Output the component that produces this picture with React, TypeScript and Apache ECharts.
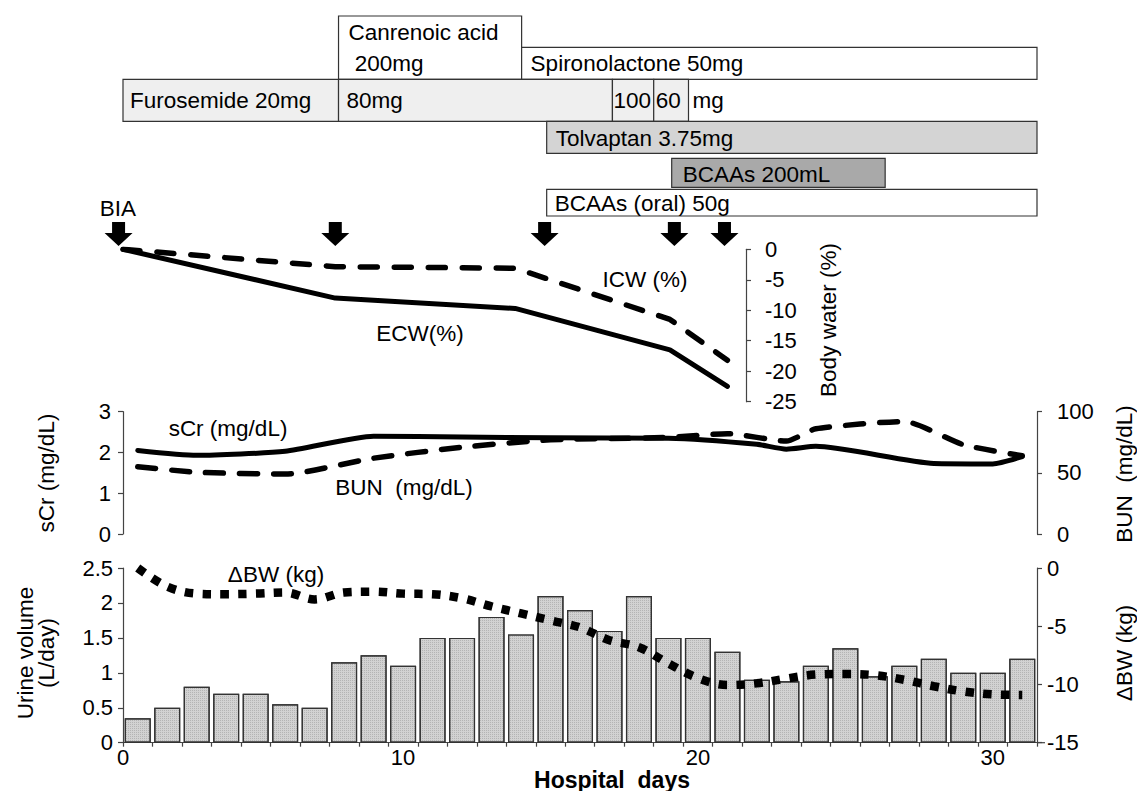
import React, { useEffect, useRef } from "react";
import * as echarts from "echarts";

const FONT = "'Liberation Sans', Arial, Helvetica, sans-serif";

// ---------------- data ----------------
const drugNames = [
  "Canrenoic acid\n 200mg",
  "Spironolactone 50mg",
  "Furosemide 20mg",
  "80mg",
  "100",
  "60",
  "Tolvaptan 3.75mg",
  "BCAAs 200mL",
  "BCAAs (oral) 50g",
];
const drugStartDay = [7.31, 13.52, 0, 7.31, 16.6, 18.0, 14.37, 18.61, 14.37];
const drugEndDay = [13.52, 31, 7.31, 16.6, 18.0, 19.18, 31, 25.85, 31];
const drugSuffix = ["", "", "", "", "", "mg", "", "", ""];

const biaDays = [-0.15, 7.2, 14.3, 18.7, 20.4];

const bodyWaterDays = [0, 7.2, 13.3, 18.55, 20.5];
const ecwChange = [0, -8, -9.7, -16.5, -22.5];
const icwChange = [0, -2.85, -3.1, -11.5, -18.2];

const sCrDays = [0.5, 2.5, 5.5, 8.5, 11.5, 14.5, 18.5, 21.5, 22.5, 23.5, 27.5, 29.5, 30.5];
const sCrValues = [2.05, 1.93, 2.03, 2.4, 2.38, 2.36, 2.35, 2.2, 2.08, 2.15, 1.73, 1.72, 1.9];
const bunDays = [0.5, 2.5, 5.5, 8.5, 11.5, 14.5, 18.5, 20.5, 22.5, 23.5, 26.5, 28.5, 30.5];
const bunValues = [55, 50.5, 49, 62, 71, 77, 79, 82, 76, 86, 92, 73, 64];

const urineVolume = [
  0.35, 0.5, 0.8, 0.7, 0.7, 0.55, 0.5, 1.15, 1.25, 1.1, 1.5, 1.5, 1.8, 1.55, 2.1, 1.9,
  1.6, 2.1, 1.5, 1.5, 1.3, 0.9, 0.88, 1.1, 1.35, 0.95, 1.1, 1.2, 1.0, 1.0, 1.2,
];
const deltaBW = [
  0, -1.6, -2.2, -2.25, -2.2, -2.1, -2.7, -2.1, -2.03, -2.2, -2.25, -2.6, -3.3, -3.9, -4.5,
  -5.1, -6.2, -6.8, -8.2, -9.45, -10.05, -9.9, -9.5, -9.15, -9.1, -9.2, -9.6, -10.15, -10.6,
  -10.85, -10.9,
];

const dayTickLabels = ["0", "10", "20", "30"];
const dayTickValues = [0, 9.5, 19.5, 29.5];

// ---------------- layout / style ----------------
const W = 1137;
const H = 791;
const PLOT_LEFT = 123;
const PLOT_WIDTH = 914;
const TOTAL_DAYS = 31;
const BW_AXIS_X = 746;
const AXIS_COLOR = "#444";
const TICK_FONT = 22;
const TEXT_FONT = 22.5;

const drugLayout = [
  { top: 16, bottom: 79.3, fill: "#ffffff", dx: 10, ty: 48 },
  { top: 47.3, bottom: 79.3, fill: "#ffffff", dx: 9, ty: 63.5 },
  { top: 79.3, bottom: 121.3, fill: "#efefef", dx: 7, ty: 100.5 },
  { top: 79.3, bottom: 121.3, fill: "#efefef", dx: 8, ty: 100.5 },
  { top: 79.3, bottom: 121.3, fill: "#efefef", dx: 1, ty: 100.5 },
  { top: 79.3, bottom: 121.3, fill: "#efefef", dx: 2, ty: 100.5 },
  { top: 121.3, bottom: 153.3, fill: "#d4d4d4", dx: 9, ty: 138 },
  { top: 158.3, bottom: 187.3, fill: "#a9a9a9", dx: 11, ty: 174 },
  { top: 189.3, bottom: 216, fill: "#ffffff", dx: 8, ty: 203 },
];

function axisText(text: string, x: number, y: number, rotate = false, bold = false, size = TEXT_FONT) {
  return {
    type: "text",
    x,
    y,
    rotation: rotate ? Math.PI / 2 : 0,
    style: {
      text,
      fill: "#000",
      fontSize: size,
      fontFamily: FONT,
      fontWeight: bold ? "bold" : "normal",
      align: "center",
      verticalAlign: "middle",
      lineHeight: rotate ? 21 : size,
    },
  };
}

function yAxisBase(gridIndex: number, position: "left" | "right", min: number, max: number, interval: number, margin: number) {
  return {
    type: "value",
    gridIndex,
    position,
    min,
    max,
    interval,
    axisLine: { show: true, onZero: false, lineStyle: { color: AXIS_COLOR, width: 1.2 } },
    axisTick: { show: true, inside: false, length: 5, lineStyle: { color: AXIS_COLOR, width: 1.2 } },
    axisLabel: {
      show: true,
      margin,
      color: "#000",
      fontSize: TICK_FONT,
      fontFamily: FONT,
      align: position === "left" ? "right" : "left",
    },
    splitLine: { show: false },
  };
}

export default function App() {
  const ref = useRef<HTMLDivElement>(null);

  useEffect(() => {
    if (!ref.current) return;
    const chart = echarts.init(ref.current, undefined, { renderer: "svg" });
    const pxPerDay = PLOT_WIDTH / TOTAL_DAYS;
    const bwMaxDay = (BW_AXIS_X - PLOT_LEFT) / pxPerDay;

    const hiddenX = (gridIndex: number, max: number) => ({
      type: "value",
      gridIndex,
      min: 0,
      max,
      show: false,
    });

    const option: any = {
      animation: false,
      backgroundColor: "#ffffff",
      grid: [
        { left: PLOT_LEFT, top: 0, width: PLOT_WIDTH, height: 249 },
        { left: PLOT_LEFT, top: 249.3, width: BW_AXIS_X - PLOT_LEFT, height: 152.4 },
        { left: PLOT_LEFT, top: 411.7, width: PLOT_WIDTH, height: 122.3 },
        { left: PLOT_LEFT, top: 568, width: PLOT_WIDTH, height: 174.7 },
      ],
      xAxis: [
        hiddenX(0, TOTAL_DAYS),
        hiddenX(1, bwMaxDay),
        hiddenX(2, TOTAL_DAYS),
        {
          type: "value",
          gridIndex: 3,
          min: 0,
          max: TOTAL_DAYS,
          interval: 1,
          axisLine: { show: true, onZero: false, lineStyle: { color: AXIS_COLOR, width: 1.2 } },
          axisTick: {
            show: true,
            length: 4,
            inside: false,
            customValues: Array.from({ length: TOTAL_DAYS + 1 }, (_, i) => i),
            lineStyle: { color: AXIS_COLOR, width: 1.2 },
          },
          axisLabel: {
            show: true,
            customValues: dayTickValues,
            formatter: (v: number) => {
              const i = dayTickValues.findIndex((t) => Math.abs(t - v) < 1e-6);
              return i >= 0 ? dayTickLabels[i] : "";
            },
            margin: 4,
            color: "#000",
            fontSize: TICK_FONT,
            fontFamily: FONT,
          },
          splitLine: { show: false },
        },
      ],
      yAxis: [
        { type: "value", gridIndex: 0, min: 0, max: 1, show: false },
        yAxisBase(1, "right", -25, 0, 5, 19),
        yAxisBase(2, "left", 0, 3, 1, 12),
        yAxisBase(2, "right", 0, 100, 50, 20),
        yAxisBase(3, "left", 0, 2.5, 0.5, 10),
        yAxisBase(3, "right", -15, 0, 5, 10),
      ],
      series: [
        {
          type: "custom",
          name: "Drugs",
          xAxisIndex: 0,
          yAxisIndex: 0,
          clip: false,
          data: drugNames.map((_, i) => [drugStartDay[i], drugEndDay[i], 0.5]),
          encode: { x: [0, 1], y: 2 },
          renderItem: (params: any, api: any) => {
            const i = params.dataIndex;
            const x0 = api.coord([api.value(0), 0.5])[0];
            const x1 = api.coord([api.value(1), 0.5])[0];
            const L = drugLayout[i];
            const children: any[] = [
              {
                type: "rect",
                shape: { x: x0, y: L.top, width: x1 - x0, height: L.bottom - L.top },
                style: { fill: L.fill, stroke: "#333", lineWidth: 1.2 },
              },
              {
                type: "text",
                style: {
                  text: drugNames[i],
                  x: x0 + L.dx,
                  y: L.ty,
                  fill: "#000",
                  fontSize: TEXT_FONT,
                  fontFamily: FONT,
                  align: "left",
                  verticalAlign: "middle",
                  lineHeight: 31,
                },
              },
            ];
            if (drugSuffix[i]) {
              children.push({
                type: "text",
                style: {
                  text: drugSuffix[i],
                  x: x1 + 4,
                  y: L.ty,
                  fill: "#000",
                  fontSize: TEXT_FONT,
                  fontFamily: FONT,
                  align: "left",
                  verticalAlign: "middle",
                },
              });
            }
            return { type: "group", children };
          },
        },
        {
          type: "custom",
          name: "BIA",
          xAxisIndex: 0,
          yAxisIndex: 0,
          clip: false,
          data: biaDays.map((d) => [d, 0.5]),
          encode: { x: 0, y: 1 },
          renderItem: (params: any, api: any) => {
            const cx = api.coord([api.value(0), 0.5])[0];
            const top = 222;
            const mid = 233;
            const tip = 246;
            return {
              type: "polygon",
              shape: {
                points: [
                  [cx - 6.5, top],
                  [cx + 6.5, top],
                  [cx + 6.5, mid],
                  [cx + 14, mid],
                  [cx, tip],
                  [cx - 14, mid],
                  [cx - 6.5, mid],
                ],
              },
              style: { fill: "#000" },
            };
          },
        },
        {
          type: "line",
          name: "ECW(%)",
          xAxisIndex: 1,
          yAxisIndex: 1,
          symbol: "none",
          data: bodyWaterDays.map((d, i) => [d, ecwChange[i]]),
          lineStyle: { color: "#000", width: 5, cap: "round", join: "round" },
        },
        {
          type: "line",
          name: "ICW (%)",
          xAxisIndex: 1,
          yAxisIndex: 1,
          symbol: "none",
          data: bodyWaterDays.map((d, i) => [d, icwChange[i]]),
          lineStyle: { color: "#000", width: 5.5, type: [17, 17], cap: "round", join: "round" },
        },
        {
          type: "line",
          name: "sCr (mg/dL)",
          xAxisIndex: 2,
          yAxisIndex: 2,
          symbol: "none",
          smooth: 0.2,
          data: sCrDays.map((d, i) => [d, sCrValues[i]]),
          lineStyle: { color: "#000", width: 5, cap: "round", join: "round" },
        },
        {
          type: "line",
          name: "BUN (mg/dL)",
          xAxisIndex: 2,
          yAxisIndex: 3,
          symbol: "none",
          smooth: 0.2,
          data: bunDays.map((d, i) => [d, bunValues[i]]),
          lineStyle: { color: "#000", width: 5.5, type: [18, 16], cap: "round", join: "round" },
        },
        {
          type: "bar",
          name: "Urine volume",
          xAxisIndex: 3,
          yAxisIndex: 4,
          barWidth: 26,
          data: urineVolume.map((v, i) => [i + 0.5, v]),
          itemStyle: {
            color: "#d2d2d2",
            borderColor: "#333",
            borderWidth: 1.2,
            decal: {
              symbol: "rect",
              symbolSize: 1,
              dashArrayX: [1, 1],
              dashArrayY: [1, 1],
              color: "rgba(0,0,0,0.14)",
            },
          },
        },
        {
          type: "line",
          name: "ΔBW (kg)",
          xAxisIndex: 3,
          yAxisIndex: 5,
          symbol: "none",
          smooth: 0.35,
          z: 5,
          data: deltaBW.map((v, i) => [i + 0.5, v]),
          lineStyle: { color: "#000", width: 8.5, type: [8.5, 9.3], cap: "butt" },
        },
      ],
      graphic: [
        axisText("BIA", 118, 208),
        axisText("ICW (%)", 645, 279),
        axisText("ECW(%)", 420, 333),
        axisText("sCr (mg/dL)", 228, 428),
        axisText("BUN  (mg/dL)", 404, 487),
        axisText("ΔBW (kg)", 276, 574),
        axisText("Body water (%)", 828, 320, true),
        axisText("sCr (mg/dL)", 46, 473, true),
        axisText("BUN  (mg/dL)", 1124, 474, true),
        axisText("Urine volume\n(L/day)", 36, 653, true),
        axisText("ΔBW (kg)", 1124, 653, true),
        axisText("Hospital  days", 612, 779.5, false, true, 23),
        {
          type: "line",
          shape: { x1: PLOT_LEFT + PLOT_WIDTH, y1: 742.7, x2: PLOT_LEFT + PLOT_WIDTH + 8, y2: 742.7 },
          style: { stroke: AXIS_COLOR, lineWidth: 1.2 },
        },
      ],
    };

    chart.setOption(option);
    return () => chart.dispose();
  }, []);

  return (
    <div
      ref={ref}
      style={{ position: "fixed", left: 0, top: 0, width: W, height: H, background: "#fff" }}
    />
  );
}
